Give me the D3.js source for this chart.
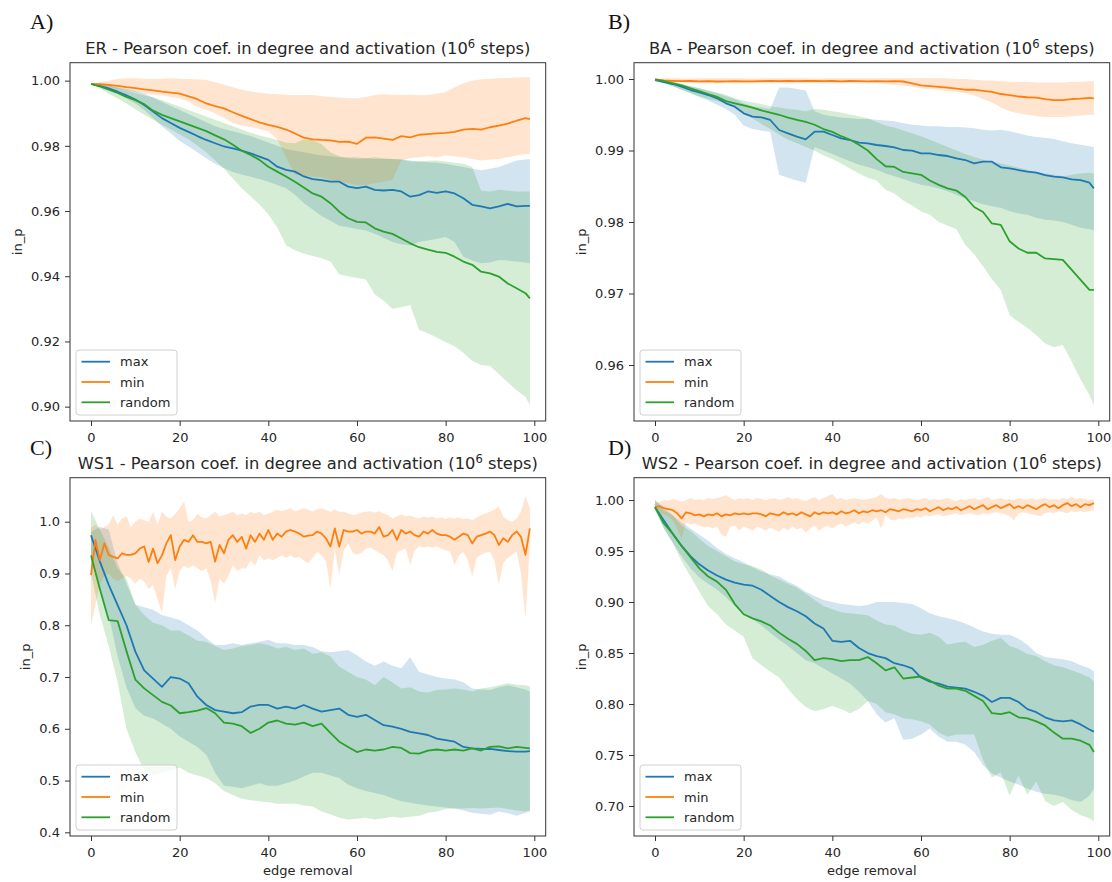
<!DOCTYPE html>
<html>
<head>
<meta charset="utf-8">
<script src="https://cdn.jsdelivr.net/npm/d3@7"></script>
<style>
  body { margin: 0; background: #fff; }
  svg text { font-family: "DejaVu Sans", sans-serif; }
</style>
</head>
<body>
<svg id="fig" width="1112" height="882"></svg>
<script>
// ---------- edge-removal steps ----------
const xStep2 = [0,2,4,6,8,10,12,14,16,18,20,22,24,26,28,30,32,34,36,38,40,42,44,46,48,50,52,54,56,58,60,62,64,66,68,70,72,74,76,78,80,82,84,86,88,90,92,94,96,98,99];
const xStep1 = [0,1,2,3,4,5,6,7,8,9,10,11,12,13,14,15,16,17,18,19,20,21,22,23,24,25,26,27,28,29,30,31,32,33,34,35,36,37,38,39,40,41,42,43,44,45,46,47,48,49,50,51,52,53,54,55,56,57,58,59,60,61,62,63,64,65,66,67,68,69,70,71,72,73,74,75,76,77,78,79,80,81,82,83,84,85,86,87,88,89,90,91,92,93,94,95,96,97,98,99];
const xTicks = [0, 20, 40, 60, 80, 100];
const xLim = [-4.74, 102.57];

// ---------- ER ----------
const erTicks = [0.90, 0.92, 0.94, 0.96, 0.98, 1.00];
const erYLim = [0.8956, 1.0055];
const erMax = [.999,.9984,.9976,.9966,.9955,.9942,.9925,.9905,.9885,.987,.9855,.9843,.983,.9818,.9808,.9798,.9792,.9785,.9777,.9767,.9757,.9736,.9726,.9721,.9706,.9698,.9695,.969,.969,.9675,.967,.9675,.9665,.9663,.9665,.966,.9644,.9649,.966,.9656,.966,.9654,.9639,.9619,.9614,.9608,.9614,.9622,.9614,.9616,.9616];
const erMaxLo = [.999,.998,.9972,.996,.9945,.993,.991,.9885,.986,.9838,.9815,.9798,.978,.9762,.9745,.9732,.972,.9712,.9705,.9698,.969,.968,.967,.965,.9625,.9605,.9585,.957,.9555,.955,.9545,.954,.953,.9518,.9505,.9498,.9495,.9505,.951,.9515,.952,.9505,.946,.9448,.944,.9442,.945,.9448,.9445,.9442,.944];
const erMaxHi = [.999,.9988,.9985,.998,.9975,.9968,.996,.9948,.9935,.9922,.991,.9898,.9885,.9872,.986,.9852,.9845,.9838,.983,.982,.981,.98,.979,.9785,.978,.9775,.977,.9768,.9765,.9765,.9765,.9762,.976,.976,.976,.9758,.9755,.9752,.975,.9748,.9745,.974,.9735,.973,.9725,.973,.9735,.9745,.9755,.9758,.976];
const erMin = [.999,.9989,.9987,.9984,.998,.9977,.9973,.997,.9966,.9963,.996,.9952,.9943,.993,.9922,.9915,.9903,.9892,.9882,.9872,.9864,.9858,.985,.9838,.9825,.982,.9818,.9817,.9812,.9813,.9806,.9825,.9826,.9822,.9818,.983,.9826,.9834,.9836,.9838,.984,.9843,.985,.9852,.985,.9857,.9862,.9868,.9877,.9885,.9882];
const erMinLo = [.999,.9985,.998,.9975,.997,.9965,.996,.9957,.9955,.995,.9945,.9935,.992,.991,.99,.9885,.987,.9862,.9858,.9852,.9845,.982,.9765,.9712,.9708,.9706,.9704,.9695,.9688,.9685,.968,.968,.9685,.969,.9695,.9755,.9762,.9765,.9768,.9765,.977,.9768,.9765,.976,.9755,.9758,.976,.9765,.977,.9775,.9776];
const erMinHi = [.999,.9995,1.0,1.0005,1.0007,1.0007,1.0006,1.0005,1.0006,1.0007,1.0006,1.0005,1.0004,1.0002,.9995,.9987,.998,.9973,.9967,.9963,.996,.9958,.9956,.9955,.9956,.9956,.9953,.995,.9948,.9946,.9946,.995,.9956,.9958,.9957,.9956,.9957,.9955,.9956,.996,.9965,.998,.9992,1.0,1.0004,1.0006,1.0007,1.0008,1.0009,1.001,1.001];
const erRandom = [.999,.9982,.9972,.9962,.995,.994,.9928,.9908,.9895,.9885,.9875,.9865,.9855,.9845,.9832,.982,.9803,.9785,.9772,.9757,.9736,.9721,.9706,.969,.9672,.9654,.9644,.9624,.9598,.9578,.9567,.9565,.9547,.9537,.953,.9516,.9501,.9489,.9482,.9475,.9472,.946,.9445,.9435,.9414,.9409,.9399,.9378,.9363,.9348,.9332];
const erRandomLo = [.999,.9975,.996,.9945,.993,.9912,.9895,.988,.9865,.985,.9835,.982,.98,.978,.9755,.973,.97,.967,.9645,.962,.959,.955,.9495,.948,.947,.9462,.9455,.9445,.9405,.94,.9395,.939,.9345,.9325,.93,.9305,.9312,.9235,.9225,.9212,.9198,.9185,.9165,.914,.9128,.9125,.91,.9075,.905,.903,.9005];
const erRandomHi = [.999,.9988,.9985,.9978,.997,.9962,.9955,.9948,.994,.993,.992,.991,.99,.989,.988,.987,.986,.985,.984,.9832,.9825,.9818,.981,.9808,.982,.9818,.9805,.978,.9768,.9762,.976,.9762,.9765,.9762,.976,.9758,.9752,.9752,.9754,.9755,.9752,.9748,.9745,.9735,.9662,.966,.9665,.9662,.966,.966,.966];

// ---------- BA ----------
const baTicks = [0.96, 0.97, 0.98, 0.99, 1.00];
const baYLim = [0.95217, 1.00228];
const baMax = [.99986,.99958,.9993,.99893,.99846,.99814,.99776,.9973,.9966,.99613,.9952,.99473,.99464,.99427,.99287,.9924,.99193,.99156,.99263,.99263,.99217,.9917,.99147,.9911,.991,.99077,.99063,.99044,.99007,.98998,.9896,.9896,.98937,.98923,.9889,.98867,.9882,.98844,.98844,.98765,.9875,.98727,.98704,.9869,.98657,.98634,.98625,.98597,.98587,.9855,.98471];
const baMaxLo = [.99985,.9995,.999,.9985,.998,.9975,.997,.9964,.9958,.995,.9935,.993,.9928,.9926,.9866,.9862,.9858,.9855,.9905,.99,.9895,.989,.9885,.988,.9877,.9873,.9868,.9864,.986,.9856,.9852,.985,.9847,.9843,.9838,.9833,.9829,.9825,.9822,.982,.9815,.9812,.981,.9806,.9803,.9802,.98,.9796,.9792,.979,.9788];
const baMaxHi = [.99988,.9998,.9996,.9993,.999,.9987,.9984,.998,.9976,.9972,.9966,.9962,.996,.9958,.9988,.9988,.9986,.9984,.9955,.995,.9948,.9946,.9945,.9944,.9944,.9943,.9942,.9941,.9938,.9936,.9935,.9934,.9934,.9933,.9933,.9932,.9931,.9929,.9928,.9929,.9927,.9924,.9921,.9919,.9918,.9916,.9913,.991,.9908,.9906,.9905];
const baMin = [.99995,.9998,.99975,.9997,.99972,.99968,.9997,.99965,.99968,.9997,.99966,.99968,.9997,.99972,.9997,.99972,.9997,.99974,.99972,.9997,.99972,.99968,.99972,.9997,.99968,.9997,.99968,.9997,.99965,.9994,.9991,.999,.9989,.9988,.99865,.9985,.9985,.99835,.9982,.9979,.99775,.99755,.99745,.9974,.9972,.99705,.99705,.9972,.99725,.99735,.9973];
const baMinLo = [.9999,.9996,.9995,.9995,.9994,.99942,.9994,.99938,.9994,.99942,.9994,.99938,.9994,.99942,.9994,.99938,.9994,.99942,.9994,.99938,.9994,.99942,.9994,.99938,.9994,.9994,.9993,.9992,.9991,.9989,.9987,.9986,.9985,.9983,.9982,.998,.9977,.9972,.9967,.996,.9955,.9952,.995,.9948,.9947,.9947,.9947,.9948,.9949,.995,.995];
const baMinHi = [1.0,1.0001,1.00012,1.0001,1.00008,1.0001,1.00012,1.0001,1.0001,1.00012,1.0001,1.00008,1.0001,1.00012,1.0001,1.0001,1.00012,1.0001,1.00008,1.0001,1.0001,1.00012,1.0001,1.0001,1.00012,1.0001,1.0001,1.00012,1.0001,1.00012,1.00015,1.00012,1.0001,1.0001,1.0,1.0,.9999,.9998,.9998,.9997,.9996,.9996,.9996,.9995,.9995,.9995,.9995,.9996,.9996,.9997,.9997];
const baRandom = [.99995,.9997,.9994,.9991,.9987,.9983,.9979,.9975,.9969,.9966,.9963,.996,.9956,.9953,.995,.9946,.9943,.994,.9936,.993,.9926,.992,.9915,.9908,.99,.9888,.9878,.9877,.987,.9868,.9866,.9858,.9852,.9847,.9844,.9835,.9821,.9814,.9798,.9796,.9773,.9763,.9757,.9757,.9749,.9748,.9747,.9733,.9719,.9705,.9705];
const baRandomLo = [.99985,.9995,.999,.9985,.998,.9976,.9972,.9969,.9966,.996,.9953,.9945,.9937,.993,.9922,.9915,.991,.9905,.99,.9893,.9888,.9882,.9875,.9868,.9862,.9858,.9845,.984,.983,.9823,.9815,.981,.98,.9795,.979,.9768,.9755,.9738,.972,.9705,.967,.966,.9652,.9642,.963,.9625,.9628,.9605,.958,.9558,.9544];
const baRandomHi = [.99998,.9998,.9996,.9993,.999,.9987,.9984,.9981,.9978,.9973,.997,.9967,.9965,.9962,.996,.9958,.9957,.9955,.9958,.9957,.9955,.9953,.995,.9948,.9945,.994,.9935,.9932,.9928,.9924,.992,.9915,.991,.9905,.99,.9895,.9891,.9887,.9884,.9882,.9879,.9876,.9873,.987,.9868,.9866,.9864,.9866,.9868,.9869,.9868];

// ---------- WS1 ----------
const ws1Ticks = [0.4, 0.5, 0.6, 0.7, 0.8, 0.9, 1.0];
const ws1YLim = [0.3929, 1.085];
const ws1Max = [.974,.923,.878,.839,.80,.749,.713,.697,.681,.70,.697,.688,.662,.646,.636,.633,.63,.632,.643,.646,.646,.639,.643,.639,.646,.639,.633,.636,.639,.627,.623,.627,.617,.607,.604,.60,.594,.591,.588,.581,.578,.575,.565,.562,.561,.561,.559,.557,.556,.556,.557];
const ws1MaxLo = [.93,.87,.82,.74,.68,.64,.625,.62,.61,.60,.585,.575,.565,.55,.515,.49,.488,.485,.49,.495,.49,.49,.495,.50,.508,.515,.515,.51,.505,.492,.485,.48,.476,.472,.466,.46,.457,.454,.452,.45,.448,.446,.442,.438,.436,.434,.44,.437,.432,.438,.44];
const ws1MaxHi = [.98,.99,.985,.92,.88,.84,.835,.83,.82,.815,.81,.80,.79,.775,.762,.762,.765,.762,.765,.768,.772,.765,.765,.762,.762,.758,.75,.748,.75,.752,.742,.73,.722,.73,.722,.717,.738,.71,.705,.70,.697,.695,.69,.678,.676,.675,.68,.684,.68,.676,.672];
const ws1Min = [
  .897,.965,.926,.958,.936,.932,.929,.939,.936,.936,
  .939,.948,.952,.922,.948,.920,.935,.958,.974,.926,
  .952,.965,.961,.974,.961,.961,.958,.961,.923,.955,
  .939,.965,.974,.961,.971,.948,.974,.961,.977,.965,
  .984,.965,.977,.971,.981,.984,.981,.977,.971,.973,
  .974,.981,.977,.968,.952,.987,.952,.984,.981,.981,
  .984,.977,.981,.981,.977,.990,.971,.974,.984,.965,
  .984,.977,.981,.974,.971,.981,.977,.984,.977,.974,
  .974,.971,.965,.971,.977,.974,.958,.971,.974,.977,
  .981,.974,.955,.968,.961,.974,.981,.971,.936,.987];
const ws1MinLo = [
  .80,.84,.88,.895,.90,.89,.885,.89,.895,.89,
  .88,.89,.885,.87,.878,.85,.823,.895,.91,.87,
  .905,.915,.91,.916,.91,.905,.91,.885,.843,.89,
  .88,.895,.916,.905,.91,.91,.925,.915,.935,.925,
  .93,.925,.93,.935,.93,.935,.93,.932,.925,.92,
  .93,.942,.935,.923,.871,.948,.897,.945,.958,.94,
  .936,.94,.948,.95,.945,.94,.935,.925,.905,.94,
  .945,.948,.916,.945,.952,.95,.952,.95,.952,.948,
  .945,.942,.916,.935,.942,.925,.894,.93,.936,.94,
  .942,.925,.878,.92,.93,.936,.942,.90,.813,.955];
const ws1MinHi = [
  .988,.994,.985,.99,.995,1.013,.994,1.006,1.01,.99,
  1.0,1.006,1.003,1.0,1.019,.994,1.019,1.01,1.006,1.015,
  1.026,1.039,1.0,1.003,1.016,1.008,1.006,1.013,1.019,1.01,
  1.013,1.016,1.019,1.013,1.016,1.013,1.019,1.016,1.019,1.013,
  1.016,1.019,1.023,1.02,1.023,1.026,1.02,1.023,1.026,1.023,
  1.02,1.024,1.026,1.023,1.019,1.023,1.019,1.019,1.016,1.013,
  1.014,1.018,1.019,1.02,1.018,1.02,1.016,1.013,1.006,1.01,
  1.014,1.01,1.012,1.008,1.006,1.01,1.008,1.01,1.006,1.008,
  1.005,1.008,1.006,1.008,1.005,1.006,1.003,1.008,1.013,1.016,
  1.019,1.023,1.029,1.01,1.003,1.0,1.006,1.019,1.05,1.026];
const ws1Random = [.935,.87,.81,.808,.75,.695,.678,.665,.652,.645,.63,.632,.635,.64,.63,.612,.61,.605,.592,.60,.612,.616,.61,.608,.612,.605,.61,.592,.575,.565,.555,.56,.558,.56,.565,.563,.553,.552,.558,.56,.558,.56,.558,.562,.558,.565,.566,.562,.565,.563,.562];
const ws1RandomLo = [.90,.82,.76,.69,.60,.555,.52,.51,.515,.52,.525,.515,.51,.505,.495,.48,.472,.465,.462,.46,.458,.455,.455,.455,.452,.45,.44,.435,.428,.425,.426,.428,.425,.427,.43,.428,.43,.432,.438,.44,.445,.446,.446,.447,.446,.447,.448,.445,.442,.44,.442];
const ws1RandomHi = [1.02,.985,.95,.91,.89,.84,.82,.805,.80,.79,.79,.78,.77,.768,.76,.752,.755,.76,.762,.765,.762,.755,.758,.752,.755,.745,.748,.74,.72,.71,.70,.695,.684,.70,.69,.678,.68,.672,.67,.675,.676,.678,.676,.672,.678,.68,.684,.688,.685,.684,.682];

// ---------- WS2 ----------
const ws2Ticks = [0.70, 0.75, 0.80, 0.85, 0.90, 0.95, 1.00];
const ws2YLim = [0.6706, 1.0219];
const ws2Max = [.993,.98,.967,.955,.945,.937,.931,.926,.922,.919,.917,.916,.912,.906,.90,.895,.891,.886,.879,.874,.862,.861,.862,.855,.85,.847,.845,.84,.838,.835,.826,.822,.82,.817,.816,.815,.812,.808,.802,.806,.806,.802,.795,.792,.787,.784,.783,.784,.78,.775,.773];
const ws2MaxLo = [.99,.972,.958,.945,.933,.924,.918,.912,.905,.896,.888,.883,.877,.87,.863,.857,.85,.843,.84,.835,.83,.825,.82,.812,.803,.79,.782,.786,.765,.766,.77,.776,.768,.763,.763,.76,.753,.74,.732,.728,.724,.721,.717,.714,.712,.711,.709,.706,.704,.71,.717];
const ws2MaxHi = [1.0,.993,.985,.978,.972,.966,.96,.953,.947,.943,.939,.934,.93,.927,.925,.92,.916,.91,.906,.902,.90,.898,.897,.896,.897,.90,.90,.90,.899,.898,.894,.889,.886,.884,.882,.879,.875,.871,.869,.868,.868,.864,.858,.85,.846,.845,.844,.842,.838,.835,.832];
const ws2Min = [
  .993,.994,.992,.991,.99,.987,.982,.988,.987,.985,
  .986,.984,.986,.985,.987,.984,.986,.985,.987,.986,
  .987,.986,.987,.987,.986,.984,.987,.986,.985,.988,
  .986,.987,.985,.988,.986,.984,.988,.986,.988,.987,
  .988,.986,.989,.987,.988,.99,.987,.989,.988,.99,
  .989,.99,.988,.991,.99,.989,.991,.99,.989,.991,
  .99,.992,.989,.991,.993,.99,.992,.991,.993,.99,
  .992,.994,.991,.993,.995,.991,.993,.995,.992,.994,
  .996,.992,.994,.992,.995,.993,.991,.994,.996,.993,
  .995,.992,.995,.997,.994,.996,.993,.996,.995,.997];
const ws2MinLo = [
  .99,.988,.986,.984,.98,.972,.962,.978,.976,.977,
  .975,.973,.974,.972,.974,.966,.964,.974,.975,.97,
  .974,.972,.97,.974,.972,.97,.973,.971,.969,.973,
  .97,.974,.971,.973,.968,.972,.975,.97,.973,.975,
  .972,.975,.977,.974,.976,.978,.976,.979,.977,.98,
  .983,.972,.985,.981,.98,.982,.981,.983,.982,.984,
  .983,.985,.984,.985,.986,.984,.985,.986,.987,.985,
  .986,.987,.986,.985,.987,.986,.987,.988,.987,.986,
  .984,.98,.987,.988,.987,.986,.985,.984,.987,.988,
  .987,.989,.988,.987,.989,.988,.989,.988,.989,.99];
const ws2MinHi = [
  .996,.998,1.0,.999,1.001,1.0,.998,1.0,1.002,1.0,
  1.001,1.0,1.002,1.001,1.002,1.003,1.005,1.002,1.0,1.002,
  1.001,1.002,1.0,1.002,1.001,1.0,1.001,1.002,1.0,1.001,
  1.003,1.001,1.002,1.0,.999,1.001,1.003,1.0,1.002,1.004,
  1.006,1.001,1.002,1.0,1.001,1.002,1.001,1.0,1.001,1.002,
  1.003,1.006,1.002,1.001,1.002,1.0,1.001,1.002,1.001,1.0,
  1.001,1.002,1.0,1.001,1.0,1.001,1.002,1.0,.999,1.001,
  1.0,1.001,1.002,1.0,1.001,1.003,1.0,1.001,1.002,1.0,
  1.001,1.0,1.002,1.001,1.0,1.002,1.0,1.001,1.002,1.0,
  1.001,1.0,1.002,1.001,1.003,1.001,1.002,1.001,1.0,1.001];
const ws2Random = [.993,.977,.967,.955,.944,.933,.925,.92,.912,.898,.888,.884,.881,.877,.87,.864,.859,.852,.843,.845,.844,.842,.843,.843,.846,.84,.833,.836,.825,.826,.827,.823,.818,.815,.815,.813,.808,.803,.791,.79,.792,.787,.786,.783,.779,.772,.766,.766,.764,.76,.753];
const ws2RandomLo = [.992,.972,.958,.94,.925,.91,.896,.888,.878,.872,.866,.845,.838,.832,.826,.815,.805,.797,.793,.795,.798,.795,.791,.795,.803,.80,.792,.79,.786,.785,.783,.78,.772,.768,.77,.77,.77,.745,.728,.733,.71,.73,.711,.724,.705,.70,.704,.696,.691,.688,.685];
const ws2RandomHi = [1.0,.99,.985,.975,.97,.962,.955,.95,.945,.94,.937,.935,.932,.926,.922,.918,.914,.908,.902,.896,.893,.89,.889,.888,.887,.882,.878,.877,.872,.869,.868,.87,.866,.858,.86,.861,.856,.858,.862,.865,.857,.854,.849,.847,.842,.838,.836,.833,.83,.826,.822];

// ---------- figure table built from the arrays above ----------
const series = (name, x, mean, lo, hi) => ({ name, x, mean, lo, hi });
const panels = [
  { letter: "A)", net: "ER", ticks: erTicks, yLim: erYLim, fmt: ".2f", xLabel: false,
    series: [series("max", xStep2, erMax, erMaxLo, erMaxHi),
             series("min", xStep2, erMin, erMinLo, erMinHi),
             series("random", xStep2, erRandom, erRandomLo, erRandomHi)] },
  { letter: "B)", net: "BA", ticks: baTicks, yLim: baYLim, fmt: ".2f", xLabel: false,
    series: [series("max", xStep2, baMax, baMaxLo, baMaxHi),
             series("min", xStep2, baMin, baMinLo, baMinHi),
             series("random", xStep2, baRandom, baRandomLo, baRandomHi)] },
  { letter: "C)", net: "WS1", ticks: ws1Ticks, yLim: ws1YLim, fmt: ".1f", xLabel: true,
    series: [series("max", xStep2, ws1Max, ws1MaxLo, ws1MaxHi),
             series("min", xStep1, ws1Min, ws1MinLo, ws1MinHi),
             series("random", xStep2, ws1Random, ws1RandomLo, ws1RandomHi)] },
  { letter: "D)", net: "WS2", ticks: ws2Ticks, yLim: ws2YLim, fmt: ".2f", xLabel: true,
    series: [series("max", xStep2, ws2Max, ws2MaxLo, ws2MaxHi),
             series("min", xStep1, ws2Min, ws2MinLo, ws2MinHi),
             series("random", xStep2, ws2Random, ws2RandomLo, ws2RandomHi)] }
];

// sanity check on array lengths
panels.forEach(p => p.series.forEach(s => {
  [s.mean, s.lo, s.hi].forEach(a => {
    if (a.length !== s.x.length) throw new Error(p.net + " " + s.name + " length " + a.length + " vs " + s.x.length);
  });
}));

// ---------- drawing ----------
const colors = { max: "#1f77b4", min: "#ff7f0e", random: "#2ca02c" };
const W = 475.7, H = 358.3;
const cells = [
  { left: 70,  top: 62.7,  letterX: 30,  letterY: 29 },
  { left: 634, top: 62.7,  letterX: 608, letterY: 29 },
  { left: 70,  top: 477.7, letterX: 30,  letterY: 455 },
  { left: 634, top: 477.7, letterX: 608, letterY: 455 }
];
const ink = "#262626";
const svg = d3.select("#fig");

panels.forEach((p, i) => {
  const c = cells[i];
  svg.append("text")
    .attr("x", c.letterX).attr("y", c.letterY)
    .style("font-family", "'Liberation Serif', 'Times New Roman', serif")
    .attr("font-size", 22).attr("fill", "#111")
    .text(p.letter);

  const g = svg.append("g").attr("transform", `translate(${c.left},${c.top})`);
  const x = d3.scaleLinear().domain(xLim).range([0, W]);
  const y = d3.scaleLinear().domain(p.yLim).range([H, 0]);

  const clipId = "clip" + i;
  g.append("clipPath").attr("id", clipId)
    .append("rect").attr("width", W).attr("height", H);
  const plot = g.append("g").attr("clip-path", `url(#${clipId})`);

  const rows = s => s.x.map((xv, k) => ({ x: xv, m: s.mean[k], lo: s.lo[k], hi: s.hi[k] }));
  const area = d3.area().x(d => x(d.x)).y0(d => y(d.lo)).y1(d => y(d.hi));
  const line = d3.line().x(d => x(d.x)).y(d => y(d.m));

  // shaded spread first, mean curves on top
  p.series.forEach(s => {
    plot.append("path").datum(rows(s))
      .attr("d", area).attr("fill", colors[s.name]).attr("fill-opacity", 0.2)
      .attr("stroke", "none");
  });
  p.series.forEach(s => {
    plot.append("path").datum(rows(s))
      .attr("d", line).attr("fill", "none").attr("stroke", colors[s.name])
      .attr("stroke-width", 1.8).attr("stroke-linejoin", "round");
  });

  // axes
  const xa = g.append("g").attr("transform", `translate(0,${H})`)
    .call(d3.axisBottom(x).tickValues(xTicks).tickFormat(d3.format("d"))
      .tickSize(5).tickSizeOuter(0).tickPadding(6.5));
  const ya = g.append("g")
    .call(d3.axisLeft(y).tickValues(p.ticks).tickFormat(d3.format(p.fmt))
      .tickSize(5).tickSizeOuter(0).tickPadding(5));
  [xa, ya].forEach(a => {
    a.select(".domain").remove();
    a.selectAll(".tick line").attr("stroke", "#333").attr("stroke-width", 1);
    a.selectAll(".tick text").attr("fill", ink).attr("font-size", 13)
      .attr("font-family", "DejaVu Sans, sans-serif");
  });

  // frame
  g.append("rect").attr("width", W).attr("height", H)
    .attr("fill", "none").attr("stroke", "#333").attr("stroke-width", 1);

  // y label placed clear of the widest tick label
  let maxW = 0;
  ya.selectAll(".tick text").each(function () { maxW = Math.max(maxW, this.getComputedTextLength()); });
  g.append("text")
    .attr("transform", `translate(${-(maxW + 19)},${H / 2}) rotate(-90)`)
    .attr("text-anchor", "middle").attr("font-size", 13).attr("fill", ink)
    .text("in_p");

  if (p.xLabel) {
    g.append("text").attr("x", W / 2).attr("y", H + 39.5)
      .attr("text-anchor", "middle").attr("font-size", 13).attr("fill", ink)
      .text("edge removal");
  }

  // title with superscript exponent
  const t = g.append("text").attr("x", W / 2).attr("y", -8.5)
    .attr("text-anchor", "middle").attr("font-size", 16.3).attr("fill", ink);
  t.append("tspan").text(`${p.net} - Pearson coef. in degree and activation (10`);
  t.append("tspan").attr("dy", -6.5).attr("font-size", 11.5).text("6");
  t.append("tspan").attr("dy", 6.5).text(" steps)");

  // legend
  const lg = g.append("g").attr("transform", `translate(6,${H - 71})`);
  lg.append("rect").attr("width", 101).attr("height", 65).attr("rx", 3)
    .attr("fill", "#fff").attr("fill-opacity", 0.8)
    .attr("stroke", "#d0d0d0").attr("stroke-width", 1);
  p.series.forEach((s, k) => {
    const yy = 11.7 + k * 20.3;
    lg.append("line").attr("x1", 5.5).attr("x2", 34).attr("y1", yy).attr("y2", yy)
      .attr("stroke", colors[s.name]).attr("stroke-width", 1.8);
    lg.append("text").attr("x", 44).attr("y", yy).attr("dy", "0.35em")
      .attr("font-size", 13).attr("fill", ink).text(s.name);
  });
});
</script>
</body>
</html>
